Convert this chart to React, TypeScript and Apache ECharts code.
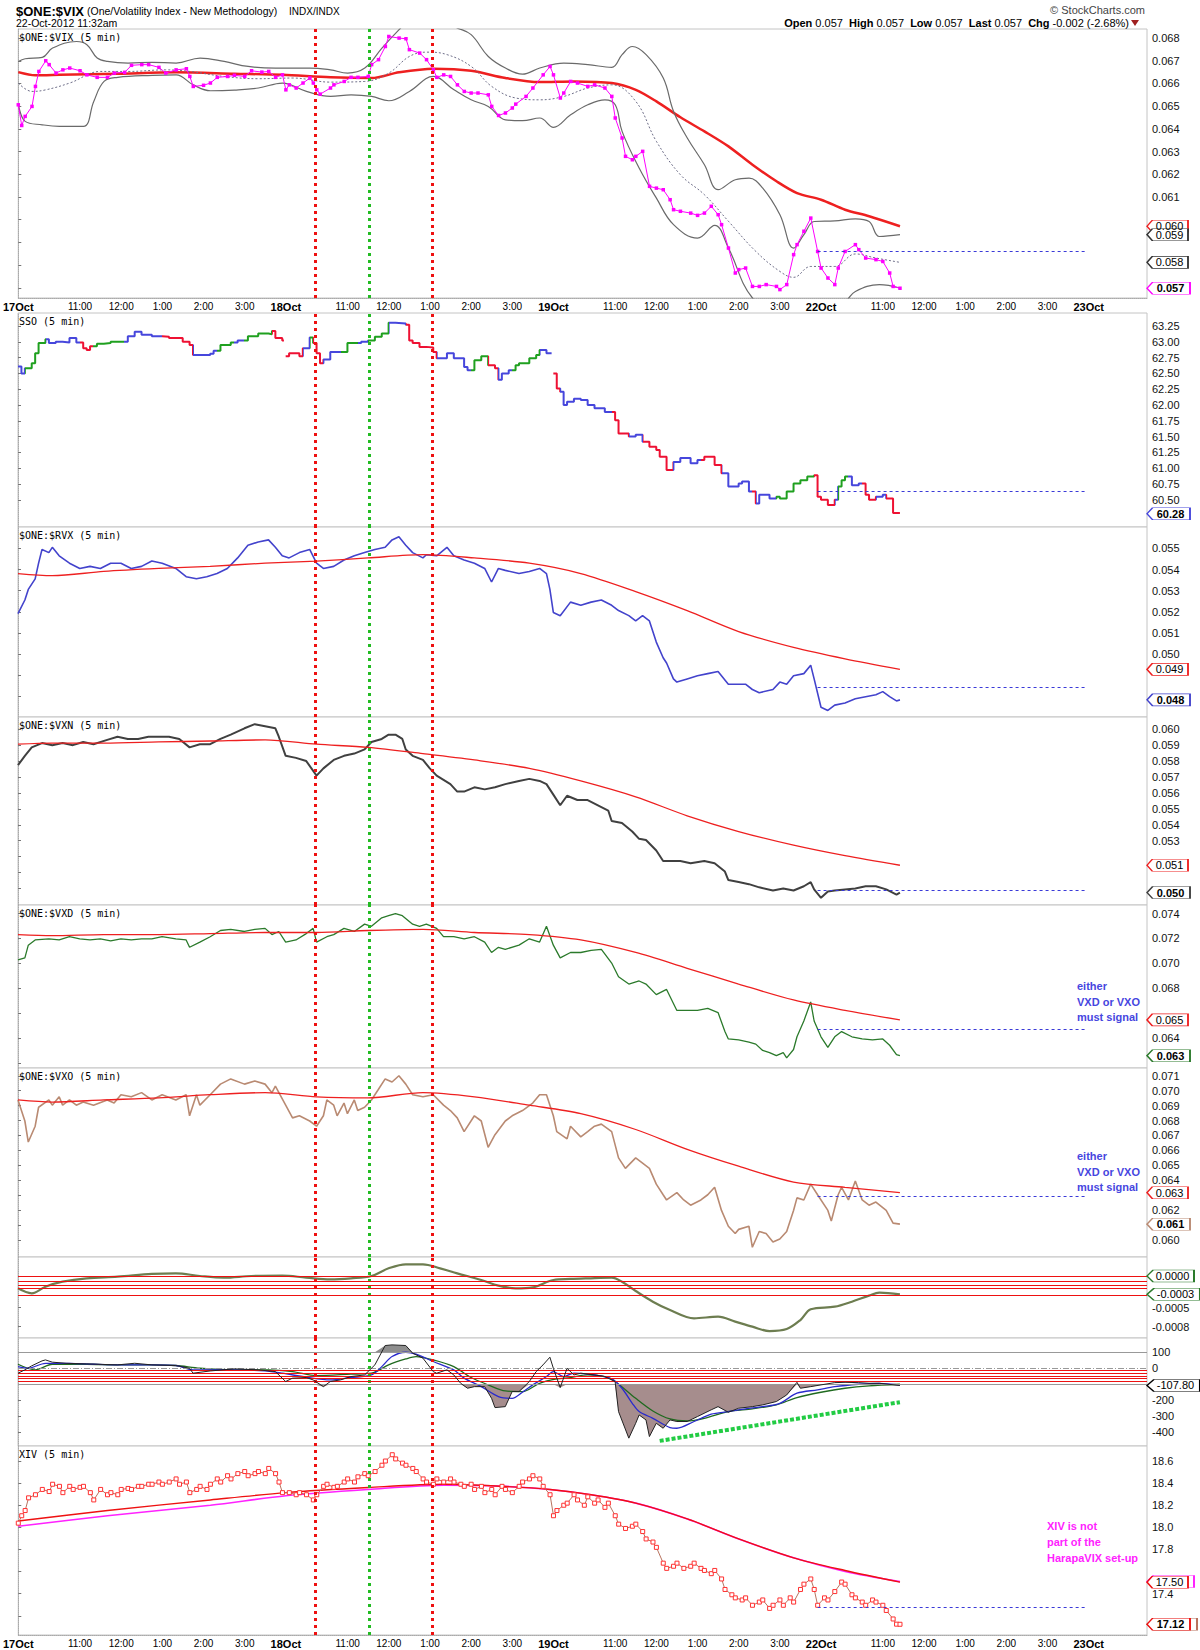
import React, { useEffect, useRef } from "react";
import * as echarts from "echarts";

const FONT = "'Liberation Sans', Arial, Helvetica, sans-serif";
const MONO = "'DejaVu Sans Mono', 'Liberation Mono', monospace";

// ---------- time axis (5-minute bars, 78 per session) ----------
const dayLabels = ["17Oct", "18Oct", "19Oct", "22Oct", "23Oct"];
const hourLabels = ["11:00", "12:00", "1:00", "2:00", "3:00"];
const hourOffsets = [18, 30, 42, 54, 66];
const barsPerDay = 78;
const lastBar = 329;
const signalBars = [86.6, 102.4, 120.7];
const signalColors = ["#ee1111", "#22bb22", "#ee1111"];
const prevCloseSpan = [233, 311];

// ---------- panel 1: $ONE:$VIX ----------
const vix = [[0,.06506],[1,.06415],[2,.06455],[4,.06499],[5,.06587],[6,.06653],[8,.067],[9,.06683],[11,.06646],[13,.0666],[15,.06668],[18,.06656],[20,.06638],[23,.06627],[26,.06627],[28,.06646],[31,.06649],[33,.0668],[36,.06683],[38,.06683],[41,.06671],[43,.06646],[46,.0666],[49,.06665],[50,.06631],[51,.06587],[54,.06592],[56,.06602],[58,.06627],[61,.06631],[63,.06636],[66,.06631],[68,.06656],[71,.0665],[73,.06653],[75,.06627],[77,.06638],[78,.06572],[79,.06594],[81,.0658],[83,.06602],[85,.06624],[86,.06602],[87,.06572],[88,.06553],[91,.0658],[92,.06594],[95,.06609],[97,.06627],[99,.06627],[102,.06631],[103,.06683],[105,.06705],[107,.06763],[108,.06807],[111,.068],[113,.06797],[114,.06749],[117,.06734],[119,.06705],[121,.0666],[122,.06627],[124,.06638],[126,.06631],[128,.06594],[130,.06565],[132,.06558],[134,.06558],[137,.0655],[138,.06499],[140,.06459],[142,.0647],[144,.06492],[145,.06509],[148,.06543],[150,.0658],[153,.06638],[155,.06675],[156,.06638],[158,.06536],[159,.06558],[161,.06609],[163,.06602],[166,.06587],[168,.06594],[171,.0658],[173,.06543],[174,.06448],[176,.0636],[177,.06279],[179,.06264],[180,.06279],[182,.06301],[184,.06147],[186,.06139],[188,.06132],[190,.06088],[191,.06044],[193,.06037],[196,.06029],[198,.06019],[200,.06029],[202,.06059],[204,.06022],[205,.05978],[207,.05875],[209,.05765],[210,.0578],[212,.05787],[214,.05706],[216,.05706],[218,.05714],[221,.05706],[222,.05692],[224,.05714],[226,.05846],[227,.0589],[229,.05949],[231,.06007],[233,.0586],[234,.05787],[236,.05743],[238,.05714],[239,.05787],[241,.0586],[244,.0589],[245,.05868],[247,.05831],[250,.05824],[252,.05816],[254,.05765],[255,.05706],[257,.05698]];
const vixMa = [[0,.0665],[5,.06636],[12,.06638],[29,.06643],[46,.06649],[63,.06643],[77,.06638],[91,.06627],[103,.06624],[111,.06649],[121,.06665],[132,.06656],[142,.06624],[152,.06606],[162,.06609],[173,.06602],[180,.06572],[186,.06521],[193,.06451],[200,.06389],[207,.06323],[214,.06242],[221,.06169],[227,.06117],[234,.06088],[241,.06044],[248,.06015],[257,.05971]];
const vixUpper = [[0,.06697],[2,.06709],[7,.06715],[10,.06756],[17,.06785],[20,.06771],[23,.06712],[26,.06697],[32,.0669],[39,.06693],[46,.0669],[53,.06712],[60,.06697],[67,.06675],[75,.06668],[85,.06668],[91,.0666],[96,.06646],[101,.06668],[106,.06756],[111,.06837],[114,.0688],[121,.06888],[128,.06844],[132,.06815],[137,.06719],[142,.06668],[147,.06641],[152,.06668],[159,.0669],[166,.06683],[173,.06671],[176,.06727],[179,.06763],[183,.06727],[188,.06624],[191,.06477],[195,.0636],[200,.06242],[204,.06132],[209,.06176],[213,.06183],[217,.06139],[222,.06022],[226,.05875],[229,.05934],[232,.05992],[238,.05995],[244,.06004],[248,.05992],[251,.05926],[257,.05934]];
const vixLower = [[0,.06514],[2,.06433],[7,.06418],[12,.06411],[19,.06411],[22,.06521],[25,.06609],[29,.06627],[39,.06636],[46,.06638],[51,.06594],[56,.06568],[63,.06571],[70,.0658],[77,.06602],[84,.06565],[91,.06543],[97,.0655],[103,.06543],[108,.06524],[114,.06565],[121,.06631],[127,.06572],[132,.06528],[137,.06499],[142,.0644],[147,.06436],[152,.06448],[156,.06407],[161,.06462],[166,.06506],[171,.06528],[174,.06506],[176,.06389],[181,.06227],[186,.06095],[191,.05978],[198,.05919],[203,.05975],[207,.05875],[214,.05655],[222,.05596],[234,.05596],[241,.0564],[244,.05684],[251,.05714],[257,.05699]];
const vixMid = [[0,.06602],[4,.06565],[8,.06572],[15,.06602],[24,.06653],[32,.06653],[43,.0666],[50,.06653],[60,.06631],[70,.06621],[80,.06624],[91,.06606],[101,.06609],[108,.06646],[114,.06719],[119,.06738],[125,.06727],[132,.06675],[138,.06587],[145,.06536],[152,.06528],[159,.06543],[166,.0658],[173,.06594],[180,.06521],[186,.06345],[193,.06198],[200,.0611],[207,.05993],[215,.0586],[222,.05772],[226,.05746],[231,.05794],[238,.05794],[244,.05849],[250,.05831],[257,.05812]];
const vixPrevClose = 0.0586;

// ---------- panel 2: SSO ----------
const sso = [[0,62.61],[1,62.5],[2,62.58],[4,62.66],[5,62.82],[6,62.98],[8,63.04],[9,62.98],[11,63.0],[13,62.99],[15,63.06],[17,62.99],[19,62.9],[20,62.87],[21,62.93],[23,62.97],[25,62.98],[27,63.0],[30,63.0],[32,63.09],[34,63.16],[36,63.11],[39,63.09],[42,63.08],[44,63.06],[48,63.0],[50,62.95],[51,62.79],[53,62.79],[56,62.81],[57,62.86],[59,62.95],[62,62.99],[64,63.02],[67,63.09],[70,63.13],[73,63.12],[74,63.17],[75,63.06],[77,63.02],[77.5,null],[78,62.77],[79,62.82],[82,62.77],[83,62.9],[85,63.07],[86,62.98],[87,62.82],[88,62.66],[89,62.72],[91,62.84],[94,62.84],[96,62.98],[99,62.98],[100,63.0],[102,63.02],[104,63.08],[106,63.13],[108,63.3],[110,63.29],[113,63.27],[114,63.02],[115,62.98],[117,62.92],[119,62.91],[121,62.84],[122,62.74],[125,62.82],[127,62.74],[130,62.6],[131,62.55],[133,62.71],[135,62.77],[137,62.63],[139,62.58],[140,62.4],[141,62.5],[143,62.55],[145,62.63],[146,62.66],[149,62.74],[151,62.79],[152,62.87],[154,62.82],[155.5,null],[156,62.5],[157,62.26],[158,62.21],[159,62.0],[160,62.05],[162,62.1],[164,62.08],[166,62.0],[168,61.95],[171,61.89],[174,61.76],[175,61.55],[178,61.5],[180,61.53],[182,61.42],[184,61.34],[186,61.29],[187,61.18],[189,60.97],[191,61.1],[193,61.16],[196,61.08],[198,61.13],[200,61.18],[203,61.05],[205,60.92],[207,60.71],[210,60.76],[211,60.79],[213,60.63],[215,60.44],[216,60.58],[219,60.52],[221,60.55],[222,60.52],[224,60.63],[226,60.76],[228,60.81],[230,60.87],[232,60.89],[233,60.55],[234,60.5],[236,60.42],[238,60.5],[239,60.71],[240,60.81],[241,60.87],[243,60.73],[245,60.76],[247,60.58],[248,60.5],[250,60.55],[252,60.58],[253,60.52],[255,60.29],[257,60.28]];
const ssoColorRuns = [[0,"b"],[2,"g"],[8,"b"],[18,"r"],[22,"g"],[31,"b"],[42,"r"],[51,"b"],[58,"g"],[63,"b"],[66,"g"],[74,"r"],[83,"b"],[85,"g"],[86,"r"],[89,"b"],[94,"g"],[99,"b"],[102,"g"],[108,"b"],[113,"r"],[122,"b"],[132,"g"],[137,"r"],[140,"b"],[144,"g"],[152,"b"],[156,"r"],[158,"b"],[173,"r"],[178,"b"],[182,"r"],[191,"b"],[199,"r"],[205,"b"],[214,"r"],[215,"b"],[221,"g"],[232,"r"],[238,"b"],[239,"g"],[242,"b"],[246,"r"],[250,"b"],[253,"r"]];
const ssoPrevClose = 60.63;

// ---------- panel 3: $ONE:$RVX ----------
const rvx = [[0,.05192],[2,.05256],[3,.05306],[5,.05356],[6,.0543],[7,.05495],[9,.0548],[10,.05505],[12,.05465],[15,.0543],[18,.05405],[21,.05415],[24,.05405],[27,.0543],[30,.0543],[33,.05405],[36,.05415],[39,.0544],[42,.0543],[46,.05405],[49,.05366],[52,.05356],[55,.05366],[58,.05381],[61,.05405],[64,.05455],[67,.05515],[70,.0553],[73,.0554],[75,.05505],[77,.05465],[79,.05455],[82,.0548],[85,.05495],[87,.0543],[89,.05405],[92,.05415],[95,.05445],[98,.05465],[101,.0548],[104,.05495],[107,.05505],[109,.0554],[111,.05555],[113,.05515],[115,.0548],[118,.05455],[119,.0547],[122,.05465],[125,.05505],[127,.05465],[130,.05445],[133,.0543],[136,.05405],[138,.05341],[140,.05405],[142,.05396],[146,.05381],[149,.05391],[152,.05405],[154,.05381],[155,.05306],[156,.05197],[158,.05182],[161,.05246],[164,.05231],[167,.05246],[170,.05256],[173,.05231],[175,.05206],[178,.05182],[180,.05157],[182,.05182],[184,.05157],[186,.05057],[188,.04983],[189,.04958],[191,.04883],[192,.04868],[195,.04883],[198,.04898],[201,.04908],[204,.04918],[207,.04858],[209,.04858],[212,.04858],[214,.04833],[216,.04818],[220,.04833],[222,.04868],[224,.04858],[226,.04898],[229,.04908],[231,.04948],[232,.04883],[234,.04749],[236,.04734],[238,.04759],[241,.04769],[244,.04789],[247,.04799],[250,.04808],[252,.04823],[254,.04799],[256,.04779],[257,.04784]];
const rvxMa = [[0,.05381],[10,.05371],[25,.05391],[41,.05405],[56,.05415],[72,.0543],[87,.0544],[102,.05455],[118,.0547],[133,.05455],[149,.0543],[164,.05381],[180,.05296],[195,.05206],[210,.05107],[226,.05032],[241,.04978],[257,.04928]];
const rvxPrevClose = 0.04843;

// ---------- panel 4: $ONE:$VXN ----------
const vxn = [[0,.05775],[2,.05834],[4,.05887],[7,.05914],[10,.05901],[13,.05914],[16,.05901],[19,.05921],[22,.05907],[26,.05934],[29,.05954],[32,.0594],[35,.0594],[38,.05954],[41,.05954],[44,.05954],[47,.0594],[50,.05887],[53,.05907],[56,.05907],[59,.0594],[62,.05967],[66,.06007],[69,.06033],[72,.0602],[75,.06007],[76,.05954],[78,.05834],[81,.05821],[84,.05801],[87,.05709],[89,.05755],[92,.05808],[95,.05834],[98,.05848],[101,.05874],[103,.05921],[106,.0594],[108,.05967],[110,.05967],[112,.0594],[113,.05874],[115,.05834],[118,.05808],[120,.05755],[122,.05709],[126,.05656],[128,.05609],[130,.05609],[133,.05636],[136,.05623],[139,.05636],[142,.05656],[146,.05676],[149,.05689],[152,.05676],[154,.05656],[156,.0559],[158,.05523],[160,.05583],[163,.05556],[166,.05556],[169,.05523],[172,.0549],[173,.05424],[176,.05411],[179,.05358],[181,.05312],[183,.05305],[186,.05239],[188,.05173],[190,.05173],[193,.05173],[196,.05159],[200,.05173],[203,.05159],[206,.05106],[207,.05053],[210,.0504],[213,.05027],[216,.05007],[220,.04987],[223,.05],[226,.04987],[229,.05014],[231,.0504],[232,.04994],[234,.04941],[236,.04981],[238,.04987],[241,.04994],[244,.05],[247,.05014],[250,.05014],[253,.04994],[256,.04961],[257,.04974]];
const vxnMa = [[0,.05907],[10,.05914],[25,.05914],[41,.05921],[56,.05927],[72,.05934],[87,.05907],[102,.05887],[118,.05848],[133,.05808],[149,.05755],[164,.05676],[180,.05576],[195,.05457],[210,.05358],[226,.05272],[241,.05206],[257,.05146]];
const vxnPrevClose = 0.04987;

// ---------- panel 5: $ONE:$VXD ----------
const vxd = [[0,.07027],[2,.07044],[3,.07146],[5,.07188],[9,.07197],[12,.07188],[15,.07214],[18,.07197],[21,.07188],[24,.07197],[27,.0718],[30,.07197],[33,.07188],[36,.07197],[39,.07197],[42,.07214],[46,.07197],[49,.07188],[50,.07129],[53,.07171],[56,.07214],[59,.07264],[62,.07273],[66,.07256],[69,.07273],[72,.07281],[74,.07231],[76,.07256],[78,.07171],[81,.07188],[84,.07239],[86,.07281],[87,.07171],[90,.07214],[92,.07231],[95,.07281],[98,.07256],[101,.07315],[103,.07298],[106,.07366],[108,.07383],[110,.074],[112,.07383],[115,.07315],[117,.07298],[119,.07315],[122,.07281],[124,.07214],[127,.07214],[130,.07197],[133,.07214],[136,.07171],[138,.07087],[140,.07129],[142,.07112],[146,.07146],[149,.07197],[152,.07171],[154,.07298],[156,.07146],[158,.07044],[161,.07087],[164,.07087],[167,.07104],[170,.07112],[173,.07002],[175,.06892],[178,.06833],[181,.06858],[183,.06833],[186,.06748],[189,.0679],[192,.06621],[195,.06621],[198,.06621],[201,.06638],[204,.06604],[206,.06451],[207,.06392],[210,.06384],[213,.06367],[215,.0635],[217,.06299],[219,.06282],[221,.06257],[223,.06282],[224,.0624],[226,.06307],[227,.06409],[229,.06536],[231,.06689],[232,.06536],[234,.06409],[236,.06324],[238,.06409],[240,.06451],[243,.06409],[246,.06392],[249,.06384],[252,.06392],[254,.06341],[256,.06265],[257,.06257]];
const vxdMa = [[0,.07231],[10,.07222],[25,.07231],[41,.07231],[56,.07239],[72,.07248],[87,.07248],[102,.07264],[118,.07273],[133,.07248],[149,.07231],[164,.07188],[180,.07087],[195,.0696],[210,.06833],[226,.06705],[241,.06621],[257,.06545]];
const vxdPrevClose = 0.06468;

// ---------- panel 6: $ONE:$VXO ----------
const vxo = [[0,.06938],[2,.06797],[3,.06656],[5,.06762],[6,.06889],[9,.06938],[10,.06903],[12,.06959],[13,.06903],[15,.06938],[17,.06903],[19,.06924],[22,.06903],[26,.06938],[28,.06917],[30,.06973],[33,.06959],[36,.06987],[39,.06938],[42,.06973],[46,.06938],[49,.06973],[50,.06832],[52,.06973],[53,.06903],[56,.06973],[59,.07044],[62,.07079],[66,.07044],[69,.07065],[72,.07044],[74,.06987],[75,.0703],[78,.06903],[80,.06818],[82,.06832],[85,.06797],[87,.06762],[89,.06832],[90,.06938],[92,.06903],[93,.06832],[95,.06917],[96,.06846],[98,.06938],[99,.06867],[101,.06889],[103,.06938],[105,.07008],[107,.07079],[109,.07058],[111,.071],[113,.07044],[115,.06973],[118,.06959],[121,.06973],[124,.06903],[126,.06867],[128,.06818],[130,.06726],[133,.06832],[135,.06797],[137,.06621],[139,.06705],[142,.06797],[144,.06832],[147,.06867],[150,.06917],[152,.06973],[154,.06973],[156,.06832],[157,.06726],[160,.06677],[161,.06762],[164,.06691],[166,.06726],[168,.06762],[170,.06776],[173,.06726],[175,.0655],[177,.0648],[180,.0655],[182,.06515],[184,.0648],[186,.06374],[188,.06303],[189,.06268],[192,.06317],[194,.06268],[196,.06233],[199,.06268],[201,.06303],[203,.06353],[205,.06198],[207,.06092],[209,.06043],[210,.06071],[213,.06092],[214,.05951],[216,.06057],[218,.06043],[220,.05986],[222,.06007],[224,.06057],[226,.06198],[227,.06282],[229,.06268],[231,.06374],[233,.06303],[236,.06198],[237,.06127],[239,.06303],[240,.06353],[242,.06268],[244,.06395],[246,.06268],[248,.06233],[250,.06254],[253,.06198],[255,.06113],[257,.06106]];
const vxoMa = [[0,.06938],[10,.06924],[25,.06938],[41,.06952],[56,.06973],[72,.06987],[87,.06959],[102,.06952],[118,.06987],[133,.06959],[149,.06903],[164,.06846],[180,.0674],[195,.06607],[210,.06494],[226,.06388],[241,.06353],[257,.06317]];
const vxoPrevClose = 0.0629;

// ---------- panel 7: spread oscillator ----------
const osc = [[0,-.000195],[4,-.000274],[8,-.000169],[13,-.00009],[20,-.000037],[29,-.000011],[39,.000032],[46,.000042],[53,0],[60,-.000026],[68,0],[77,.000005],[84,-.000026],[91,-.000053],[97,-.000037],[103,0],[108,.000121],[113,.000184],[118,.000184],[123,.000121],[128,.000042],[135,-.000063],[140,-.000153],[145,-.000195],[150,-.000179],[156,-.000063],[161,-.000047],[166,-.000037],[173,-.000026],[176,-.00009],[180,-.000237],[185,-.000406],[190,-.000538],[197,-.000669],[204,-.000643],[209,-.000722],[214,-.000801],[219,-.00087],[224,-.000838],[228,-.000696],[231,-.000527],[238,-.000485],[243,-.000406],[248,-.000311],[251,-.000264],[257,-.00029]];
const oscLevels = [0, -0.00008, -0.00014, -0.00019, -0.0003];
const oscZeroTag = 0;

// ---------- panel 8: CCI ----------
const cci = [[0,-31],[2,-10],[4,15],[7,46],[8,52],[10,38],[14,31],[20,27],[29,21],[34,31],[39,21],[46,17],[50,0],[51,-31],[56,-17],[63,-4],[70,-10],[75,-21],[78,-83],[80,-62],[84,-58],[86,-73],[89,-115],[91,-83],[94,-73],[97,-52],[101,-42],[104,21],[107,142],[109,146],[113,142],[115,94],[118,63],[121,-21],[122,-31],[125,-10],[127,-42],[129,-94],[131,-125],[133,-115],[136,-115],[138,-188],[139,-246],[142,-240],[144,-146],[146,-146],[149,-83],[151,-21],[153,21],[155,69],[156,0],[158,-121],[160,0],[162,-42],[164,-31],[168,-42],[171,-52],[174,-83],[175,-271],[178,-437],[180,-344],[181,-292],[183,-323],[184,-427],[186,-344],[188,-375],[190,-323],[192,-333],[195,-333],[198,-302],[202,-260],[204,-240],[207,-275],[210,-250],[214,-240],[217,-229],[221,-208],[224,-167],[227,-88],[228,-125],[231,-115],[234,-104],[238,-90],[241,-88],[245,-90],[248,-94],[251,-94],[257,-107.8]];
const cciFast = [[0,10],[3,0],[8,31],[15,31],[22,25],[29,21],[39,21],[46,17],[51,-10],[56,-10],[63,-10],[72,-17],[77,-31],[84,-56],[91,-73],[97,-58],[103,-42],[106,10],[109,73],[113,100],[116,88],[121,42],[127,-10],[130,-62],[135,-115],[140,-177],[144,-188],[147,-150],[150,-104],[154,-52],[156,-21],[159,-52],[162,-31],[168,-42],[173,-67],[176,-125],[179,-219],[181,-271],[185,-313],[190,-371],[192,-375],[197,-333],[202,-287],[207,-271],[212,-254],[217,-240],[222,-219],[227,-156],[233,-135],[238,-115],[245,-100],[251,-94],[257,-104]];
const cciSlow = [[0,25],[5,-10],[10,25],[20,25],[29,21],[39,21],[46,17],[53,0],[63,-10],[73,-10],[80,-21],[87,-46],[97,-37],[103,-31],[108,21],[113,58],[116,73],[121,52],[127,10],[132,-58],[137,-104],[142,-142],[147,-146],[152,-94],[157,-67],[161,-58],[166,-42],[171,-52],[174,-83],[180,-188],[185,-267],[190,-317],[195,-329],[200,-313],[207,-271],[214,-254],[221,-229],[227,-183],[234,-150],[241,-125],[248,-110],[257,-100]];
const cciTrend = [[187,-454],[257,-212]];
const cciRedLevels = [-11, -31, -48, -63, -79];
const cciBands = [100, -100];

// ---------- panel 9: XIV ----------
const xiv = [[0,18.038],[1,18.105],[2,18.152],[3,18.267],[5,18.295],[7,18.343],[9,18.324],[10,18.39],[12,18.371],[13,18.314],[15,18.371],[16,18.343],[18,18.362],[19,18.371],[21,18.314],[22,18.248],[24,18.343],[26,18.295],[27,18.314],[29,18.295],[30,18.343],[32,18.352],[33,18.343],[35,18.371],[36,18.371],[38,18.39],[39,18.39],[41,18.41],[42,18.39],[44,18.41],[46,18.438],[47,18.39],[49,18.41],[50,18.314],[52,18.343],[53,18.371],[55,18.343],[56,18.39],[58,18.438],[59,18.41],[61,18.467],[62,18.438],[64,18.486],[66,18.505],[67,18.467],[69,18.486],[70,18.505],[72,18.486],[73,18.533],[75,18.486],[76,18.41],[77,18.314],[79,18.314],[81,18.295],[82,18.314],[84,18.295],[86,18.248],[87,18.295],[89,18.371],[90,18.39],[92,18.362],[93,18.371],[95,18.41],[96,18.438],[98,18.41],[99,18.457],[101,18.486],[102,18.467],[104,18.505],[106,18.562],[107,18.6],[109,18.657],[110,18.619],[112,18.581],[113,18.562],[115,18.533],[116,18.505],[118,18.438],[119,18.41],[121,18.39],[122,18.438],[124,18.41],[126,18.438],[127,18.41],[129,18.39],[130,18.371],[132,18.39],[133,18.343],[135,18.371],[136,18.314],[138,18.343],[139,18.295],[141,18.371],[142,18.343],[144,18.314],[146,18.371],[147,18.41],[149,18.438],[150,18.467],[152,18.438],[153,18.371],[155,18.295],[156,18.105],[157,18.152],[159,18.2],[160,18.219],[162,18.295],[163,18.248],[165,18.2],[166,18.276],[168,18.219],[169,18.248],[171,18.181],[172,18.219],[174,18.105],[175,18.029],[177,17.99],[179,18.01],[180,18.029],[182,17.962],[183,17.895],[185,17.867],[186,17.819],[188,17.676],[189,17.629],[191,17.648],[192,17.676],[194,17.629],[196,17.648],[197,17.676],[199,17.629],[200,17.61],[202,17.581],[203,17.61],[205,17.533],[206,17.438],[208,17.39],[209,17.362],[211,17.343],[212,17.362],[214,17.295],[216,17.324],[217,17.343],[219,17.267],[220,17.295],[222,17.343],[223,17.295],[225,17.362],[226,17.324],[228,17.438],[229,17.486],[231,17.533],[232,17.438],[233,17.295],[235,17.362],[236,17.343],[238,17.419],[240,17.505],[241,17.486],[243,17.39],[244,17.362],[246,17.324],[247,17.295],[249,17.343],[250,17.324],[252,17.295],[253,17.248],[255,17.171],[256,17.124],[257,17.123]];
const xivMaRed = [[0,18.057],[26,18.152],[56,18.248],[78,18.314],[102,18.36],[124,18.39],[142,18.37],[155,18.343],[167,18.295],[180,18.219],[195,18.076],[210,17.895],[226,17.724],[241,17.61],[257,17.504]];
const xivMaPink = [[0,18.01],[26,18.105],[56,18.2],[78,18.286],[102,18.343],[124,18.381],[142,18.371],[155,18.343],[167,18.295],[180,18.219],[195,18.076],[210,17.895],[226,17.724],[241,17.6],[257,17.509]];
const xivPrevClose = 17.276;

// ---------- y-axis ticks ----------
const vixTicks = [0.057, 0.058, 0.059, 0.06, 0.061, 0.062, 0.063, 0.064, 0.065, 0.066, 0.067, 0.068];
const ssoTicks = [60.5, 60.75, 61, 61.25, 61.5, 61.75, 62, 62.25, 62.5, 62.75, 63, 63.25];
const rvxTicks = [0.048, 0.049, 0.05, 0.051, 0.052, 0.053, 0.054, 0.055];
const vxnTicks = [0.05, 0.051, 0.052, 0.053, 0.054, 0.055, 0.056, 0.057, 0.058, 0.059, 0.06];
const vxdTicks = [0.062, 0.064, 0.066, 0.068, 0.07, 0.072, 0.074];
const vxoTicks = [0.06, 0.061, 0.062, 0.063, 0.064, 0.065, 0.066, 0.067, 0.068, 0.069, 0.07, 0.071];
const oscTicks = [0, -0.0003, -0.0005, -0.0008];
const cciTicks = [100, 0, -100, -200, -300, -400];
const xivTicks = [17.2, 17.4, 17.6, 17.8, 18.0, 18.2, 18.4, 18.6];

const panelTitles = ["$ONE:$VIX (5 min)", "SSO (5 min)", "$ONE:$RVX (5 min)", "$ONE:$VXN (5 min)", "$ONE:$VXD (5 min)", "$ONE:$VXO (5 min)", "", "", "XIV (5 min)"];

// layout (pixels) of the nine panes
const paneBox = [[29, 298], [313, 527], [527, 717], [717, 905], [905, 1068], [1068, 1257], [1257, 1338], [1338, 1446], [1446, 1635]];
const paneRange = [[0.05655, 0.0684], [60.07, 63.456], [0.04703, 0.05601], [0.04896, 0.06078], [0.06158, 0.07469], [0.05886, 0.07152], [-0.00098, 0.0003], [-486, 189], [17.026, 18.736]];
const paneTicks = [vixTicks, ssoTicks, rvxTicks, vxnTicks, vxdTicks, vxoTicks, oscTicks, cciTicks, xivTicks];
const paneDecimals = [3, 2, 3, 3, 3, 3, 4, 0, 1];

const last = (arr: any[]) => arr[arr.length - 1][1];

function buildOption() {
  const xTickBars: number[] = [];
  const xTickText: Record<string, string> = {};
  dayLabels.forEach((d, i) => {
    const b = i * barsPerDay;
    xTickBars.push(b);
    xTickText[b] = "{d|" + d + "}";
    if (i < dayLabels.length - 1) {
      hourOffsets.forEach((h, j) => {
        xTickBars.push(b + h);
        xTickText[b + h] = "{h|" + hourLabels[j] + "}";
      });
    }
  });

  const grid = paneBox.map(([t, b]) => ({
    left: 18, right: 53, top: t, height: b - t, show: true,
    borderColor: "#c4c4c4", borderWidth: 1, backgroundColor: "#fff",
  }));

  const xAxis = paneBox.map((_, i) => {
    const labelled = i === 0 || i === 8;
    return {
      gridIndex: i, type: "value", min: 0, max: lastBar,
      axisLine: { show: labelled, lineStyle: { color: "#aaa", type: "dotted" } },
      axisTick: { show: false },
      splitLine: { show: false },
      axisLabel: labelled ? {
        show: true, customValues: xTickBars, margin: 3, hideOverlap: false,
        formatter: (v: number) => xTickText[v] || "",
        rich: {
          d: { fontWeight: "bold", fontSize: 11, fontFamily: FONT, color: "#000" },
          h: { fontSize: 10, fontFamily: FONT, color: "#000" },
        },
      } : { show: false },
    };
  });

  const marks = (gi: number, extra: any[] = []) => ({
    silent: true, symbol: ["none", "none"], label: { show: false }, animation: false, precision: 8,
    data: [
      ...signalBars.map((x, k) => ({ xAxis: x, lineStyle: { color: signalColors[k], type: [3, 4], width: 3 } })),
      ...extra,
    ],
  });
  const prevLine = (v: number) => [
    { coord: [prevCloseSpan[0], v], lineStyle: { color: "#3a3ad8", type: [3, 3], width: 1 } },
    { coord: [prevCloseSpan[1], v] },
  ];
  const hLine = (v: number, color: string, type: any = "solid", width = 1.3) => ({ yAxis: v, lineStyle: { color, type, width } });

  const line = (gi: number, data: any[], color: string | null, width: number, extra: any = {}) => {
    const ls: any = { width, ...(extra.lineStyle || {}) };
    if (color) ls.color = color;
    const s: any = {
      type: "line", xAxisIndex: gi, yAxisIndex: gi, data, showSymbol: false, silent: true,
      lineStyle: ls,
      ...Object.fromEntries(Object.entries(extra).filter(([k]) => k !== "lineStyle")),
    };
    if (color) s.itemStyle = { color };
    return s;
  };

  const tagValues: number[][] = paneBox.map(() => []);
  const tag = (gi: number, value: number, text: string, border: string, bold: boolean, z = 20, showText = true, widthText = text) => {
    tagValues[gi].push(value);
    const w = Math.round(widthText.length * (bold ? 6.6 : 6.1) + 10);
    return {
      type: "scatter", xAxisIndex: gi, yAxisIndex: gi, clip: false, silent: true, z,
      symbol: "path://M0,6 L6,0 L46,0 L46,12 L6,12 Z", symbolKeepAspect: false,
      symbolSize: [w, 12], symbolOffset: [w / 2, 0],
      itemStyle: { color: "#ffffff", borderColor: border, borderWidth: 1, opacity: 1 },
      label: {
        show: showText, position: "inside", formatter: text, color: "#000", fontSize: 11,
        fontFamily: FONT, fontWeight: bold ? "bold" : "normal", offset: [2, 0],
      },
      data: [[lastBar, value]],
    };
  };
  const fmt = (v: number, d: number) => v.toFixed(d);

  const series: any[] = [];
  // panel 1
  series.push(line(0, vixMa, "#ee2020", 2.5, { smooth: 0.3, markLine: marks(0, [prevLine(vixPrevClose)]) }));
  series.push(line(0, vixUpper, "#6a6a6a", 1.2, { smooth: 0.4 }));
  series.push(line(0, vixLower, "#6a6a6a", 1.2, { smooth: 0.4 }));
  series.push(line(0, vixMid, "#6e6e88", 1, { smooth: 0.4, lineStyle: { type: [2, 2] } }));
  series.push({
    ...line(0, vix, "#ff00ff", 1),
    showSymbol: true, showAllSymbol: true, symbol: "rect", symbolSize: 3.5,
    itemStyle: { color: "#ff00ff" },
  });
  series.push(tag(0, last(vixMa), fmt(last(vixMa), 3), "#ee2020", false));
  series.push(tag(0, last(vixUpper), fmt(last(vixUpper), 3), "#333", false));
  series.push(tag(0, last(vixMid), fmt(last(vixMid), 3), "#333", false));
  series.push(tag(0, last(vix), fmt(last(vix), 3), "#ff00ff", true));

  // panel 2 (bar colours come from the visualMap below)
  const ssoIndex = series.length;
  series.push(line(1, sso, null, 2, { step: "end", markLine: marks(1, [prevLine(ssoPrevClose)]) }));
  series.push(tag(1, last(sso), fmt(last(sso), 2), "#4646dc", true));

  // panels 3-6
  const pairs = [
    [2, rvx, rvxMa, "#4343cc", 1.6, rvxPrevClose],
    [3, vxn, vxnMa, "#404040", 2, vxnPrevClose],
    [4, vxd, vxdMa, "#2b7a2b", 1.3, vxdPrevClose],
    [5, vxo, vxoMa, "#b98a72", 1.6, vxoPrevClose],
  ] as any[];
  pairs.forEach(([gi, d, ma, color, w, pc]) => {
    series.push(line(gi, d, color, w, { markLine: marks(gi, [prevLine(pc)]) }));
    series.push(line(gi, ma, "#ee2020", 1.3, { smooth: 0.3 }));
    series.push(tag(gi, last(ma), fmt(last(ma), 3), "#ee2020", false));
    series.push(tag(gi, last(d), fmt(last(d), 3), color, true));
  });

  // panel 7
  series.push(line(6, osc, "#6d7d50", 2.2, {
    smooth: 0.35, z: 4,
    markLine: marks(6, oscLevels.map((v) => hLine(v, "#ee1111", "solid", 1.2))),
  }));
  series.push(tag(6, oscZeroTag, fmt(oscZeroTag, 4), "#2b7a2b", false));
  series.push(tag(6, last(osc), fmt(last(osc), 4), "#2b7a2b", false));

  // panel 8
  series.push({
    type: "line", xAxisIndex: 7, yAxisIndex: 7, silent: true, showSymbol: false, z: 2,
    data: cci.map(([x, v]) => [x, Math.min(v, cciBands[1])]),
    lineStyle: { opacity: 0 }, areaStyle: { color: "#a68d8d", origin: cciBands[1], opacity: 1 },
    markLine: marks(7, [
      hLine(cciBands[0], "#999", "solid", 1.2), hLine(cciBands[1], "#999", "solid", 1.2),
      hLine(0, "#999", [6, 2, 1, 2], 1),
      ...cciRedLevels.map((v) => hLine(v, "#ee1111", "solid", 1.2)),
    ]),
  });
  series.push({
    type: "line", xAxisIndex: 7, yAxisIndex: 7, silent: true, showSymbol: false, z: 2,
    data: cci.map(([x, v]) => [x, Math.max(v, cciBands[0])]),
    lineStyle: { opacity: 0 }, areaStyle: { color: "#8e8e8e", origin: cciBands[0], opacity: 1 },
  });
  series.push(line(7, cciSlow, "#1f6a1f", 1.3, { smooth: 0.3, z: 4 }));
  series.push(line(7, cciFast, "#2a2acc", 1.3, { smooth: 0.3, z: 4 }));
  series.push(line(7, cci, "#222", 1, { z: 5 }));
  series.push(line(7, cciTrend, "#22cc44", 4, { lineStyle: { type: [4, 2] }, z: 6 }));
  series.push(tag(7, last(cci), fmt(last(cci), 2), "#000", false));

  // panel 9
  series.push(line(8, xivMaPink, "#ff22ff", 1.6, { smooth: 0.3, markLine: marks(8, [prevLine(xivPrevClose)]) }));
  series.push(line(8, xivMaRed, "#ee1111", 1.4, { smooth: 0.3 }));
  series.push({
    ...line(8, xiv, "#b8735f", 1),
    showSymbol: true, showAllSymbol: true, symbol: "rect", symbolSize: 4,
    itemStyle: { color: "#fff", borderColor: "#ff3030", borderWidth: 1 },
  });
  series.push(tag(8, last(xivMaPink), "", "#ff22ff", false, 19, false, fmt(last(xivMaPink), 3)));
  series.push(tag(8, last(xivMaRed), fmt(last(xivMaRed), 2), "#ee1111", false, 20));
  series.push(tag(8, last(xiv), "", "#b8735f", true, 19, false, fmt(last(xiv), 3)));
  series.push(tag(8, last(xiv), fmt(last(xiv), 2), "#ee1111", true, 20));

  // y axes: tick labels that would sit under a value tag are not printed (as in the original)
  const yAxis = paneBox.map(([t, b], i) => {
    const pxPerUnit = (b - t) / (paneRange[i][1] - paneRange[i][0]);
    const labels = paneTicks[i].filter((v) => tagValues[i].every((tv) => Math.abs(v - tv) * pxPerUnit >= 11));
    return {
      gridIndex: i, type: "value", position: "right",
      min: paneRange[i][0], max: paneRange[i][1],
      axisLine: { show: true, lineStyle: { color: "#aaa", type: "dotted" } },
      axisTick: { show: true, length: 3, customValues: paneTicks[i], lineStyle: { color: "#777" } },
      splitLine: { show: false },
      axisLabel: {
        show: true, customValues: labels, margin: 5, fontSize: 11, fontFamily: FONT, color: "#111",
        formatter: (v: number) => v.toFixed(paneDecimals[i]),
      },
    };
  });

  const ssoPalette: Record<string, string> = { g: "#1fa01f", r: "#ee1133", b: "#4646dc" };
  const pieces = ssoColorRuns.map(([s, c], i) => ({
    gte: s as number,
    lt: i + 1 < ssoColorRuns.length ? (ssoColorRuns[i + 1][0] as number) : 1000,
    color: ssoPalette[c as string],
  }));

  const txt = (text: string, x: number, y: number, o: any = {}) => ({
    type: "text", silent: true, z: 50,
    style: { text, x, y, fill: "#000", fontSize: 11, fontFamily: FONT, verticalAlign: "middle", ...o },
  });

  const graphic: any[] = [
    txt("$ONE:$VIX", 16, 11, { fontSize: 13, fontWeight: "bold" }),
    txt("(One/Volatility Index - New Methodology)", 87, 11, { fontSize: 10.5 }),
    txt("INDX/INDX", 289, 11, { fontSize: 10 }),
    txt("22-Oct-2012 11:32am", 16, 23, { fontSize: 10.5 }),
    txt("\u00A9 StockCharts.com", 1145, 10, { fontSize: 11, fill: "#444", align: "right" }),
    txt("{b|Open} 0.057  {b|High} 0.057  {b|Low} 0.057  {b|Last} 0.057  {b|Chg} -0.002 (-2.68%)", 1129, 23, {
      align: "right", rich: { b: { fontWeight: "bold", fontSize: 11, fontFamily: FONT, fill: "#000" } },
    }),
    { type: "polygon", silent: true, z: 50, shape: { points: [[1131, 20], [1139, 20], [1135, 26]] }, style: { fill: "#a02020" } },
  ];
  panelTitles.forEach((t, i) => {
    if (t) graphic.push(txt(t, 19, paneBox[i][0] + 3, { fontSize: 10, fontFamily: MONO, verticalAlign: "top" }));
  });
  const note = { fontWeight: "bold", fontSize: 11, fill: "#4646e0" };
  ["either", "VXD or VXO", "must signal"].forEach((t, k) => {
    graphic.push(txt(t, 1077, 986 + k * 15.5, note));
    graphic.push(txt(t, 1077, 1156 + k * 15.5, note));
  });
  ["XIV is not", "part of the", "HarapaVIX set-up"].forEach((t, k) => {
    graphic.push(txt(t, 1047, 1526 + k * 16, { fontWeight: "bold", fontSize: 11, fill: "#ff22ff" }));
  });

  return {
    animation: false,
    backgroundColor: "#ffffff",
    grid, xAxis, yAxis,
    visualMap: [{ type: "piecewise", show: false, dimension: 0, seriesIndex: ssoIndex, pieces }],
    series,
    graphic,
  };
}

export default function App() {
  const ref = useRef<HTMLDivElement>(null);
  useEffect(() => {
    if (!ref.current) return;
    const chart = echarts.init(ref.current, undefined, { renderer: "svg" });
    chart.setOption(buildOption() as any);
    return () => chart.dispose();
  }, []);
  return (
    <div
      ref={ref}
      style={{ position: "absolute", left: 0, top: 0, width: 1200, height: 1650, background: "#fff" }}
    />
  );
}
